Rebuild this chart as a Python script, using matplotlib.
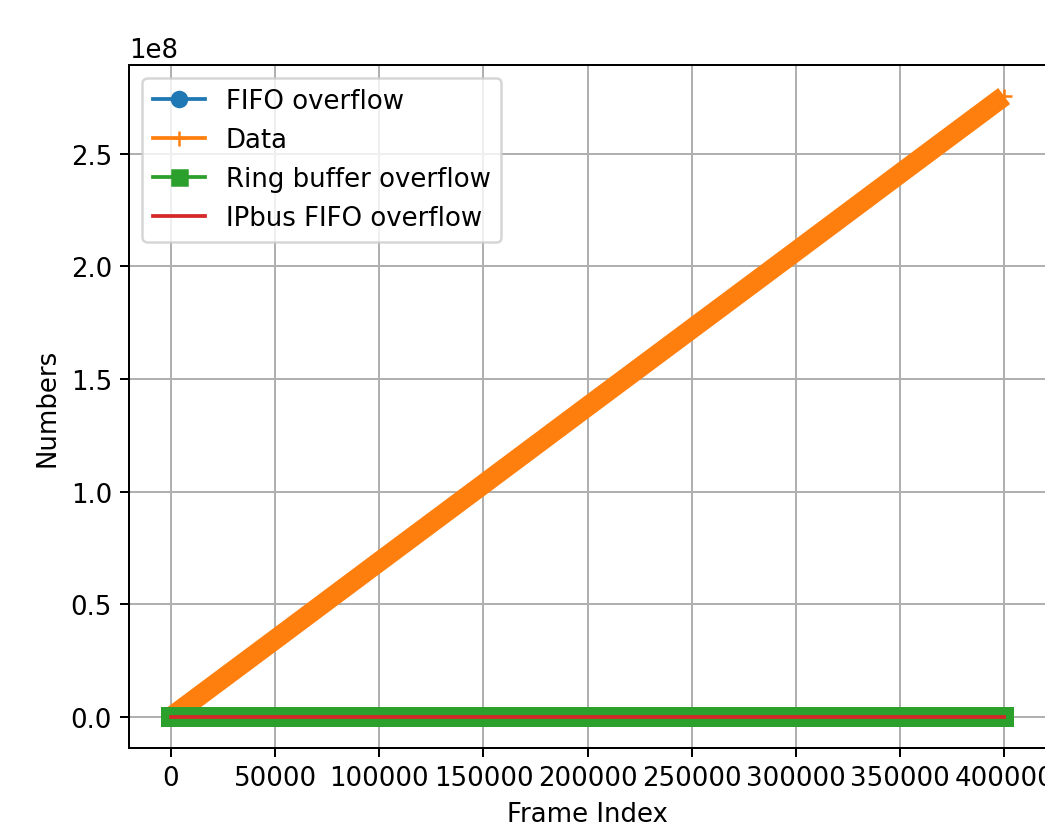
import matplotlib
matplotlib.use("Agg")
import matplotlib.pyplot as plt

# Frame index readings and series values
frames = [0, 50000, 100000, 150000, 200000, 250000, 300000, 350000, 400000]
data_vals = [0.0, 0.344e8, 0.689e8, 1.033e8, 1.378e8, 1.722e8, 2.066e8, 2.411e8, 2.755e8]
fifo_overflow = [0, 0, 0, 0, 0, 0, 0, 0, 0]
ring_overflow = [0, 0, 0, 0, 0, 0, 0, 0, 0]
ipbus_overflow = [0, 0, 0, 0, 0, 0, 0, 0, 0]

plt.rcParams["font.size"] = 10.4

DPI = 180
fig = plt.figure(figsize=(1045 / DPI, 828 / DPI), dpi=DPI)
ax = fig.add_axes([129.4 / 1045, (828 - 749) / 828, (1045.8 - 129.4) / 1045, (749 - 66) / 828])

px = 72.0 / DPI  # points per pixel

l_fifo, = ax.plot(frames, fifo_overflow, color="#1f77b4", marker="o",
                  linewidth=15 * px, solid_capstyle="round", label="FIFO overflow")
l_data, = ax.plot(frames, data_vals, color="#ff7f0e", marker="+",
                  linewidth=20 * px, solid_capstyle="butt", label="Data")
l_ring, = ax.plot(frames, ring_overflow, color="#2ca02c", marker="s",
                  linewidth=20 * px, solid_capstyle="projecting", solid_joinstyle="round",
                  label="Ring buffer overflow")
l_ipbus, = ax.plot(frames, ipbus_overflow, color="#d62728", label="IPbus FIFO overflow")

ax.grid(True)
ax.set_xlabel("Frame Index")
ax.set_ylabel("Numbers")
ax.set_xlim(-20000, 420000)

leg = ax.legend(loc="upper left")
for ln in leg.get_lines():
    ln.set_linewidth(1.5)
    ln.set_solid_capstyle("projecting")

fig.savefig("out.png", dpi=DPI)
